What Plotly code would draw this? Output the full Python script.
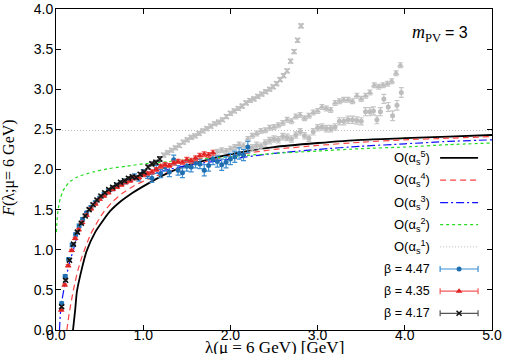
import plotly.graph_objects as go

# ---------------- data ----------------
# perturbative curves
o5_lam = [0.195, 0.22, 0.24, 0.3, 0.35, 0.45, 0.55, 0.62, 0.75, 0.85, 1.0, 1.25, 1.5, 2.0, 2.5, 3.0, 3.5, 4.0, 4.5, 5.0]
o5_F = [0.0, 0.25, 0.48, 0.78, 0.98, 1.22, 1.38, 1.48, 1.61, 1.69, 1.79, 1.94, 2.05, 2.19, 2.28, 2.33, 2.37, 2.39, 2.41, 2.43]

o4_lam = [0.125, 0.15, 0.2, 0.25, 0.3, 0.4, 0.54, 0.65, 0.77, 0.9, 1.08, 1.25, 1.5, 2.0, 2.5, 3.0, 3.5, 4.0, 4.5, 5.0]
o4_F = [0.0, 0.2, 0.5, 0.74, 0.92, 1.2, 1.46, 1.6, 1.71, 1.8, 1.89, 1.96, 2.04, 2.17, 2.25, 2.3, 2.34, 2.37, 2.39, 2.41]

o3_lam = [0.04, 0.05, 0.07, 0.1, 0.15, 0.2, 0.25, 0.31, 0.4, 0.5, 0.65, 0.8, 1.0, 1.25, 1.5, 2.0, 2.5, 3.0, 3.5, 4.0, 4.5, 5.0]
o3_F = [0.0, 0.2, 0.38, 0.56, 0.82, 1.0, 1.2, 1.37, 1.52, 1.63, 1.75, 1.84, 1.92, 1.99, 2.05, 2.13, 2.2, 2.25, 2.29, 2.32, 2.35, 2.37]

o2_lam = [0.005, 0.01, 0.02, 0.035, 0.05, 0.075, 0.1, 0.16, 0.25, 0.43, 0.6, 0.8, 1.0, 1.3, 1.6, 2.0, 2.5, 3.0, 3.5, 4.0, 4.5, 5.0]
o2_F = [1.22, 1.33, 1.46, 1.57, 1.64, 1.72, 1.77, 1.85, 1.91, 1.97, 2.01, 2.04, 2.07, 2.1, 2.13, 2.16, 2.2, 2.23, 2.26, 2.28, 2.31, 2.33]

o1_lam = [0.0, 5.0]
o1_F = [2.485, 2.485]

# beta = 4.17 (black crosses), used range
b417_lam = [0.065, 0.11, 0.155, 0.20, 0.245, 0.29, 0.335, 0.38, 0.425, 0.47, 0.515, 0.56, 0.605,
            0.65, 0.695, 0.74, 0.785, 0.83, 0.875, 0.92, 0.965, 1.01, 1.055, 1.10, 1.145, 1.19]
b417_F = [0.29, 0.62, 0.87, 1.07, 1.22, 1.33, 1.42, 1.50, 1.56, 1.62, 1.67, 1.71, 1.75,
          1.78, 1.81, 1.84, 1.86, 1.89, 1.91, 1.90, 1.94, 1.97, 2.03, 2.07, 2.09, 2.13]
b417_err = [0.015, 0.015, 0.015, 0.015, 0.015, 0.015, 0.015, 0.015, 0.015, 0.015, 0.015, 0.015, 0.015,
            0.015, 0.015, 0.02, 0.02, 0.02, 0.02, 0.02, 0.02, 0.02, 0.025, 0.025, 0.025, 0.03]
# beta = 4.17, excluded range (grey)
b417x_lam = [1.235, 1.28, 1.325, 1.37, 1.415, 1.46, 1.505, 1.55, 1.595, 1.64, 1.685, 1.73, 1.775,
             1.82, 1.865, 1.91, 1.955, 2.00, 2.045, 2.09, 2.135, 2.18, 2.225, 2.27, 2.315, 2.36,
             2.405, 2.45, 2.49, 2.53, 2.57, 2.61, 2.65, 2.69, 2.73, 2.77, 2.81]
b417x_F = [2.18, 2.21, 2.24, 2.27, 2.30, 2.34, 2.37, 2.40, 2.42, 2.45, 2.48, 2.51, 2.54,
           2.57, 2.59, 2.62, 2.66, 2.70, 2.73, 2.76, 2.79, 2.83, 2.86, 2.88, 2.91, 2.94,
           2.97, 3.00, 3.03, 3.07, 3.12, 3.17, 3.23, 3.35, 3.47, 3.61, 3.79]
b417x_err = [0.025, 0.025, 0.025, 0.025, 0.025, 0.025, 0.025, 0.025, 0.025, 0.025, 0.025, 0.025, 0.025,
             0.025, 0.025, 0.025, 0.025, 0.025, 0.025, 0.025, 0.025, 0.025, 0.025, 0.025, 0.025, 0.025,
             0.025, 0.025, 0.025, 0.025, 0.025, 0.025, 0.025, 0.025, 0.025, 0.025, 0.025]

# beta = 4.35 (red triangles), used range
b435_lam = [0.06, 0.10, 0.14, 0.18, 0.22, 0.26, 0.30, 0.35, 0.40, 0.45, 0.50, 0.55, 0.60, 0.65, 0.70,
            0.75, 0.80, 0.85, 0.90, 0.95, 1.00, 1.05, 1.10, 1.15, 1.20, 1.25, 1.30, 1.35, 1.40, 1.45,
            1.50, 1.55, 1.60, 1.65, 1.70, 1.75, 1.80]
b435_F = [0.25, 0.56, 0.80, 0.99, 1.14, 1.25, 1.34, 1.43, 1.51, 1.57, 1.63, 1.67, 1.71, 1.75, 1.78,
          1.81, 1.84, 1.86, 1.89, 1.90, 1.93, 1.95, 1.97, 2.00, 2.04, 2.06, 2.05, 2.08, 2.10, 2.09,
          2.12, 2.11, 2.14, 2.17, 2.19, 2.18, 2.21]
b435_err = [0.015, 0.015, 0.015, 0.015, 0.015, 0.015, 0.015, 0.015, 0.015, 0.015, 0.015, 0.015, 0.015, 0.015, 0.015,
            0.02, 0.02, 0.02, 0.02, 0.02, 0.02, 0.02, 0.025, 0.025, 0.025, 0.025, 0.025, 0.025, 0.025, 0.025,
            0.03, 0.03, 0.03, 0.03, 0.03, 0.03, 0.03]
# beta = 4.35, excluded range (grey)
b435x_lam = [1.85, 1.90, 1.95, 2.00, 2.05, 2.10, 2.15, 2.20, 2.25, 2.30, 2.35, 2.40, 2.45, 2.50, 2.55,
             2.60, 2.65, 2.70, 2.75, 2.80, 2.85, 2.90, 2.95, 3.00, 3.05, 3.10, 3.15, 3.20, 3.25, 3.30,
             3.35, 3.40, 3.45, 3.50, 3.55, 3.60, 3.65, 3.70, 3.75, 3.80, 3.85, 3.90, 3.95]
b435x_F = [2.22, 2.24, 2.23, 2.26, 2.28, 2.31, 2.30, 2.38, 2.42, 2.45, 2.48, 2.49, 2.52, 2.53, 2.55,
           2.58, 2.62, 2.60, 2.66, 2.68, 2.64, 2.67, 2.71, 2.73, 2.78, 2.76, 2.74, 2.83, 2.85, 2.87,
           2.87, 2.85, 2.92, 2.88, 2.92, 2.96, 3.05, 3.03, 3.05, 3.07, 3.10, 3.20, 3.30]
b435x_err = [0.03, 0.03, 0.03, 0.03, 0.03, 0.03, 0.03, 0.03, 0.03, 0.03, 0.03, 0.03, 0.03, 0.03, 0.03,
             0.03, 0.03, 0.03, 0.03, 0.03, 0.03, 0.03, 0.03, 0.03, 0.03, 0.03, 0.03, 0.03, 0.03, 0.03,
             0.03, 0.03, 0.03, 0.03, 0.03, 0.03, 0.03, 0.03, 0.03, 0.03, 0.03, 0.03, 0.03]

# beta = 4.47 (blue circles), used range
b447_lam = [0.065, 0.105, 0.145, 0.185, 0.225, 0.265, 0.305, 0.35, 0.40, 0.45, 0.50, 0.55, 0.60, 0.65, 0.70,
            0.75, 0.80, 0.85, 0.90, 0.95, 1.00, 1.05, 1.10, 1.15, 1.20, 1.25, 1.30, 1.35, 1.40, 1.45,
            1.50, 1.55, 1.60, 1.65, 1.70, 1.75, 1.80, 1.85, 1.90, 1.95, 2.00, 2.05, 2.10, 2.15, 2.20]
b447_F = [0.33, 0.67, 0.88, 1.06, 1.19, 1.30, 1.38, 1.46, 1.53, 1.59, 1.64, 1.69, 1.73, 1.76, 1.80,
          1.83, 1.85, 1.88, 1.91, 1.89, 1.96, 1.93, 1.89, 2.00, 1.95, 2.03, 1.97, 2.12, 1.99, 1.96,
          2.04, 2.03, 2.08, 2.07, 1.99, 2.05, 2.13, 2.10, 2.06, 2.09, 2.13, 2.16, 2.20, 2.18, 2.28]
b447_err = [0.02, 0.02, 0.02, 0.02, 0.02, 0.02, 0.02, 0.02, 0.02, 0.02, 0.025, 0.025, 0.025, 0.025, 0.03,
            0.03, 0.03, 0.03, 0.035, 0.035, 0.04, 0.04, 0.05, 0.05, 0.05, 0.05, 0.06, 0.06, 0.06, 0.06,
            0.06, 0.06, 0.06, 0.06, 0.07, 0.07, 0.07, 0.07, 0.07, 0.07, 0.07, 0.07, 0.07, 0.07, 0.07]
# beta = 4.47, excluded range (grey)
b447x_lam = [2.25, 2.30, 2.35, 2.40, 2.45, 2.50, 2.55, 2.60, 2.65, 2.70, 2.75, 2.80, 2.85, 2.90, 2.95,
             3.00, 3.05, 3.10, 3.15, 3.20, 3.25, 3.30, 3.35, 3.40, 3.45, 3.50, 3.55, 3.60, 3.64, 3.68,
             3.72, 3.76, 3.81, 3.86, 3.91, 3.96]
b447x_F = [2.27, 2.30, 2.29, 2.33, 2.36, 2.38, 2.37, 2.41, 2.40, 2.38, 2.43, 2.47, 2.42, 2.39, 2.47,
           2.52, 2.53, 2.51, 2.51, 2.53, 2.60, 2.60, 2.62, 2.62, 2.61, 2.60, 2.72, 2.72, 2.73, 2.62,
           2.72, 2.88, 2.78, 2.67, 2.80, 2.96]
b447x_err = [0.04, 0.04, 0.04, 0.04, 0.04, 0.04, 0.04, 0.04, 0.04, 0.04, 0.04, 0.04, 0.04, 0.04, 0.04,
             0.04, 0.04, 0.04, 0.04, 0.04, 0.045, 0.045, 0.045, 0.045, 0.045, 0.045, 0.05, 0.05, 0.05, 0.05,
             0.05, 0.055, 0.055, 0.06, 0.06, 0.06]

x_tick_vals = [0, 1, 2, 3, 4, 5]
x_tick_text = ["0.0", "1.0", "2.0", "3.0", "4.0", "5.0"]
y_tick_vals = [0, 0.5, 1.0, 1.5, 2.0, 2.5, 3.0, 3.5, 4.0]
y_tick_text = ["0.0", "0.5", "1.0", "1.5", "2.0", "2.5", "3.0", "3.5", "4.0"]

legend_labels = ["O(α<sub>s</sub><sup>5</sup>)", "O(α<sub>s</sub><sup>4</sup>)", "O(α<sub>s</sub><sup>3</sup>)",
                 "O(α<sub>s</sub><sup>2</sup>)", "O(α<sub>s</sub><sup>1</sup>)",
                 "β = 4.47", "β = 4.35", "β = 4.17"]

# ---------------- styles ----------------
SANS = "Liberation Sans, Arial, sans-serif"
SERIF = "Liberation Serif, Times New Roman, serif"
GREY = "#bdbdbd"
GREY_ERR = "#c6c6c6"
BLUE = "#1f6fb0"
BLUE_ERR = "#3c8fd2"
RED = "#e02424"
RED_ERR = "#f25a5a"
BLACK = "#111111"
BLACK_ERR = "#555555"

curve_styles = [
    (o5_lam, o5_F, dict(color="black", width=1.8, dash="solid")),
    (o4_lam, o4_F, dict(color="#ff4444", width=1.2, dash="6px,4px")),
    (o3_lam, o3_F, dict(color="#1010ff", width=1.2, dash="8px,3px,2px,3px")),
    (o2_lam, o2_F, dict(color="#22dd22", width=1.2, dash="3px,3px")),
    (o1_lam, o1_F, dict(color="#b8b8b8", width=1.0, dash="1px,2px")),
]

fig = go.Figure()

for lam, F, ln in curve_styles:
    fig.add_trace(go.Scatter(x=lam, y=F, mode="lines", line=dict(shape="spline", smoothing=0.6, **ln),
                             showlegend=False, hoverinfo="skip"))


def pts(lam, F, err, sym, size, col, ecol, lw=0):
    mk = dict(symbol=sym, size=size, color=col)
    if lw:
        mk["line"] = dict(color=col, width=lw)
    fig.add_trace(go.Scatter(x=lam, y=F, mode="markers", marker=mk, showlegend=False,
                             error_y=dict(type="data", array=err, visible=True, color=ecol,
                                          thickness=1.2, width=2.5)))


# grey (excluded) data
pts(b447x_lam, b447x_F, b447x_err, "circle", 5, GREY, GREY_ERR)
pts(b435x_lam, b435x_F, b435x_err, "triangle-up", 6, GREY, GREY_ERR)
pts(b417x_lam, b417x_F, b417x_err, "x-thin", 5, GREY, GREY_ERR, lw=1.5)
# coloured data
pts(b447_lam, b447_F, b447_err, "circle", 5, BLUE, BLUE_ERR)
pts(b435_lam, b435_F, b435_err, "triangle-up", 6, RED, RED_ERR)
pts(b417_lam, b417_F, b417_err, "x-thin", 5, BLACK, BLACK_ERR, lw=1.5)

# ---------------- manual legend (text left, sample right) ----------------
leg_x_text = 0.862
leg_x0, leg_x1, leg_xm = 0.881, 0.968, 0.9245
leg_rows = [0.536, 0.467, 0.397, 0.328, 0.259, 0.190, 0.121, 0.052]

for i, (lam, F, ln) in enumerate(curve_styles):
    fig.add_trace(go.Scatter(x=[leg_x0, leg_x1], y=[leg_rows[i]] * 2, xaxis="x2", yaxis="y2",
                             mode="lines", line=ln, showlegend=False, hoverinfo="skip"))

for j, (sym, col, ecol, size, lw) in enumerate([("circle", BLUE, BLUE_ERR, 5, 0),
                                                ("triangle-up", RED, RED_ERR, 6, 0),
                                                ("x-thin", BLACK, BLACK_ERR, 5, 1.5)]):
    mk = dict(symbol=sym, size=size, color=col)
    if lw:
        mk["line"] = dict(color=col, width=lw)
    fig.add_trace(go.Scatter(x=[leg_xm], y=[leg_rows[5 + j]], xaxis="x2", yaxis="y2", mode="markers",
                             marker=mk, showlegend=False, hoverinfo="skip",
                             error_x=dict(type="data", array=[leg_x1 - leg_xm], visible=True,
                                          color=ecol, thickness=1.2, width=3)))

annotations = []
for i, lab in enumerate(legend_labels):
    annotations.append(dict(x=leg_x_text, y=leg_rows[i], xref="paper", yref="paper", text=lab,
                            showarrow=False, xanchor="right", yanchor="middle",
                            font=dict(family=SANS, size=13 if i < 5 else 12.5, color="black")))

annotations.append(dict(x=0.887, y=0.925, xref="paper", yref="paper", text="<i>m</i><sub>PV</sub>",
                        showarrow=False, xanchor="right", yanchor="middle",
                        font=dict(family=SERIF, size=18, color="black")))
annotations.append(dict(x=0.95, y=0.928, xref="paper", yref="paper", text="= 3",
                        showarrow=False, xanchor="right", yanchor="middle",
                        font=dict(family=SANS, size=16, color="black")))

# axis titles as annotations (tight placement like the original)
annotations.append(dict(x=0.5, y=-0.054, xref="paper", yref="paper", text="λ(μ = 6 GeV) [GeV]",
                        showarrow=False, xanchor="center", yanchor="middle",
                        font=dict(family=SERIF, size=17, color="black")))
annotations.append(dict(x=-0.108, y=0.505, xref="paper", yref="paper", text="<i>F</i>(λ;μ= 6 GeV)",
                        showarrow=False, xanchor="center", yanchor="middle", textangle=-90,
                        font=dict(family=SERIF, size=16, color="black")))

axis_common = dict(showline=True, linecolor="black", linewidth=1, mirror="ticks", ticks="inside",
                   ticklen=5, tickcolor="black", showgrid=False, zeroline=False,
                   tickfont=dict(family=SANS, size=14, color="black"), automargin=False)

fig.update_layout(
    width=506, height=354,
    margin=dict(l=56, r=14, t=9, b=24),
    paper_bgcolor="white", plot_bgcolor="white",
    showlegend=False,
    xaxis=dict(range=[0, 5], tickvals=x_tick_vals, ticktext=x_tick_text, ticklabelstandoff=-8,
               **axis_common),
    yaxis=dict(range=[0, 4], tickvals=y_tick_vals, ticktext=y_tick_text, ticklabelstandoff=-1,
               **axis_common),
    xaxis2=dict(overlaying="x", range=[0, 1], visible=False, anchor="y2"),
    yaxis2=dict(overlaying="y", range=[0, 1], visible=False, anchor="x2"),
    annotations=annotations,
)

fig.write_html("out.html", config={"displayModeBar": False},
               post_script="document.body.style.margin='0px';document.body.style.overflow='hidden';")
